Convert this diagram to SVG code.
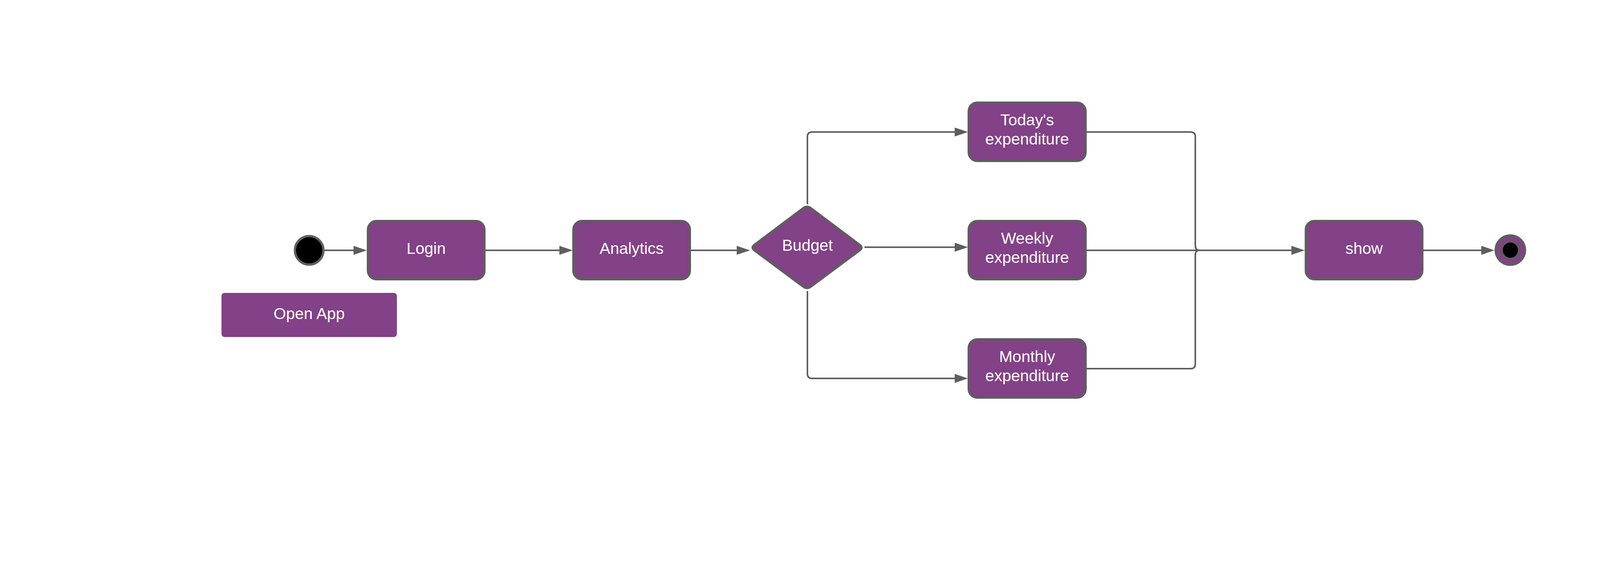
<svg xmlns="http://www.w3.org/2000/svg" width="4307" height="1498" viewBox="0 0 4307 1498">
<style>
.node{fill:#834187;stroke:#5e5e5e;stroke-width:6}
.plain{fill:#834187;stroke:none}
.lbl{font-family:"Liberation Sans",Arial,sans-serif;font-size:41px;fill:#ffffff;text-anchor:middle}
.conn{fill:none;stroke:#5e5e5e;stroke-width:4}
.arr{marker-end:url(#ah)}
</style>
<defs>
<marker id="ah" viewBox="0 0 34 23" refX="0" refY="11.5" markerWidth="34" markerHeight="23" markerUnits="userSpaceOnUse" orient="auto">
<path d="M0,0 L34,11.5 L0,23 Z" fill="#5e5e5e"/>
</marker>
</defs>
<rect width="4307" height="1498" fill="#ffffff"/>
<g id="connectors">
<path class="conn arr" d="M828 641 H905"/>
<path class="conn arr" d="M1243 641 H1432"/>
<path class="conn arr" d="M1768 641 H1886"/>
<path class="conn arr" d="M2067 523 V350 Q2067 338 2079 338 H2444"/>
<path class="conn arr" d="M2213 633 H2444"/>
<path class="conn arr" d="M2067 745 V957 Q2067 969 2079 969 H2444"/>
<path class="conn" d="M2782 338 H3048 Q3060 338 3060 350 V628 Q3060 641 3070 641"/>
<path class="conn" d="M2782 944 H3048 Q3060 944 3060 932 V654 Q3060 641 3070 641"/>
<path class="conn arr" d="M2782 641 H3306"/>
<path class="conn arr" d="M3643 641 H3792"/>
</g>
<g id="start">
<circle cx="791.5" cy="641" r="36.5" fill="#000000" stroke="#5e5e5e" stroke-width="6"/>
</g>
<g id="open-app">
<rect class="plain" x="567" y="750" width="449" height="113" rx="8"/>
<text class="lbl" x="791.5" y="817">Open App</text>
</g>
<g id="login">
<rect class="node" x="942" y="566" width="298" height="149" rx="22"/>
<text class="lbl" x="1091" y="650">Login</text>
</g>
<g id="analytics">
<rect class="node" x="1468" y="566" width="298" height="149" rx="22"/>
<text class="lbl" x="1617" y="650">Analytics</text>
</g>
<g id="budget">
<path class="node" stroke-linejoin="round" d="M2075.6 533.2 L2200.4 626.8 Q2210 634 2200.4 641.2 L2075.6 733.8 Q2066 741 2056.4 733.8 L1931.6 641.2 Q1922 634 1931.6 626.8 L2056.4 533.2 Q2066 526 2075.6 533.2 Z"/>
<text class="lbl" x="2067" y="642">Budget</text>
</g>
<g id="todays">
<rect class="node" x="2480" y="263" width="299" height="149" rx="22"/>
<text class="lbl" x="2629.5" y="321">Today's</text>
<text class="lbl" x="2629.5" y="370">expenditure</text>
</g>
<g id="weekly">
<rect class="node" x="2480" y="566" width="299" height="149" rx="22"/>
<text class="lbl" x="2629.5" y="624">Weekly</text>
<text class="lbl" x="2629.5" y="673">expenditure</text>
</g>
<g id="monthly">
<rect class="node" x="2480" y="869" width="299" height="149" rx="22"/>
<text class="lbl" x="2629.5" y="927">Monthly</text>
<text class="lbl" x="2629.5" y="976">expenditure</text>
</g>
<g id="show">
<rect class="node" x="3343" y="566" width="298" height="149" rx="22"/>
<text class="lbl" x="3492" y="650">show</text>
</g>
<g id="end">
<circle cx="3866.5" cy="640.5" r="37.5" fill="#834187" stroke="#5e5e5e" stroke-width="6"/>
<circle cx="3866.5" cy="640.5" r="22" fill="#000000" stroke="#5e5e5e" stroke-width="5"/>
</g>
</svg>
